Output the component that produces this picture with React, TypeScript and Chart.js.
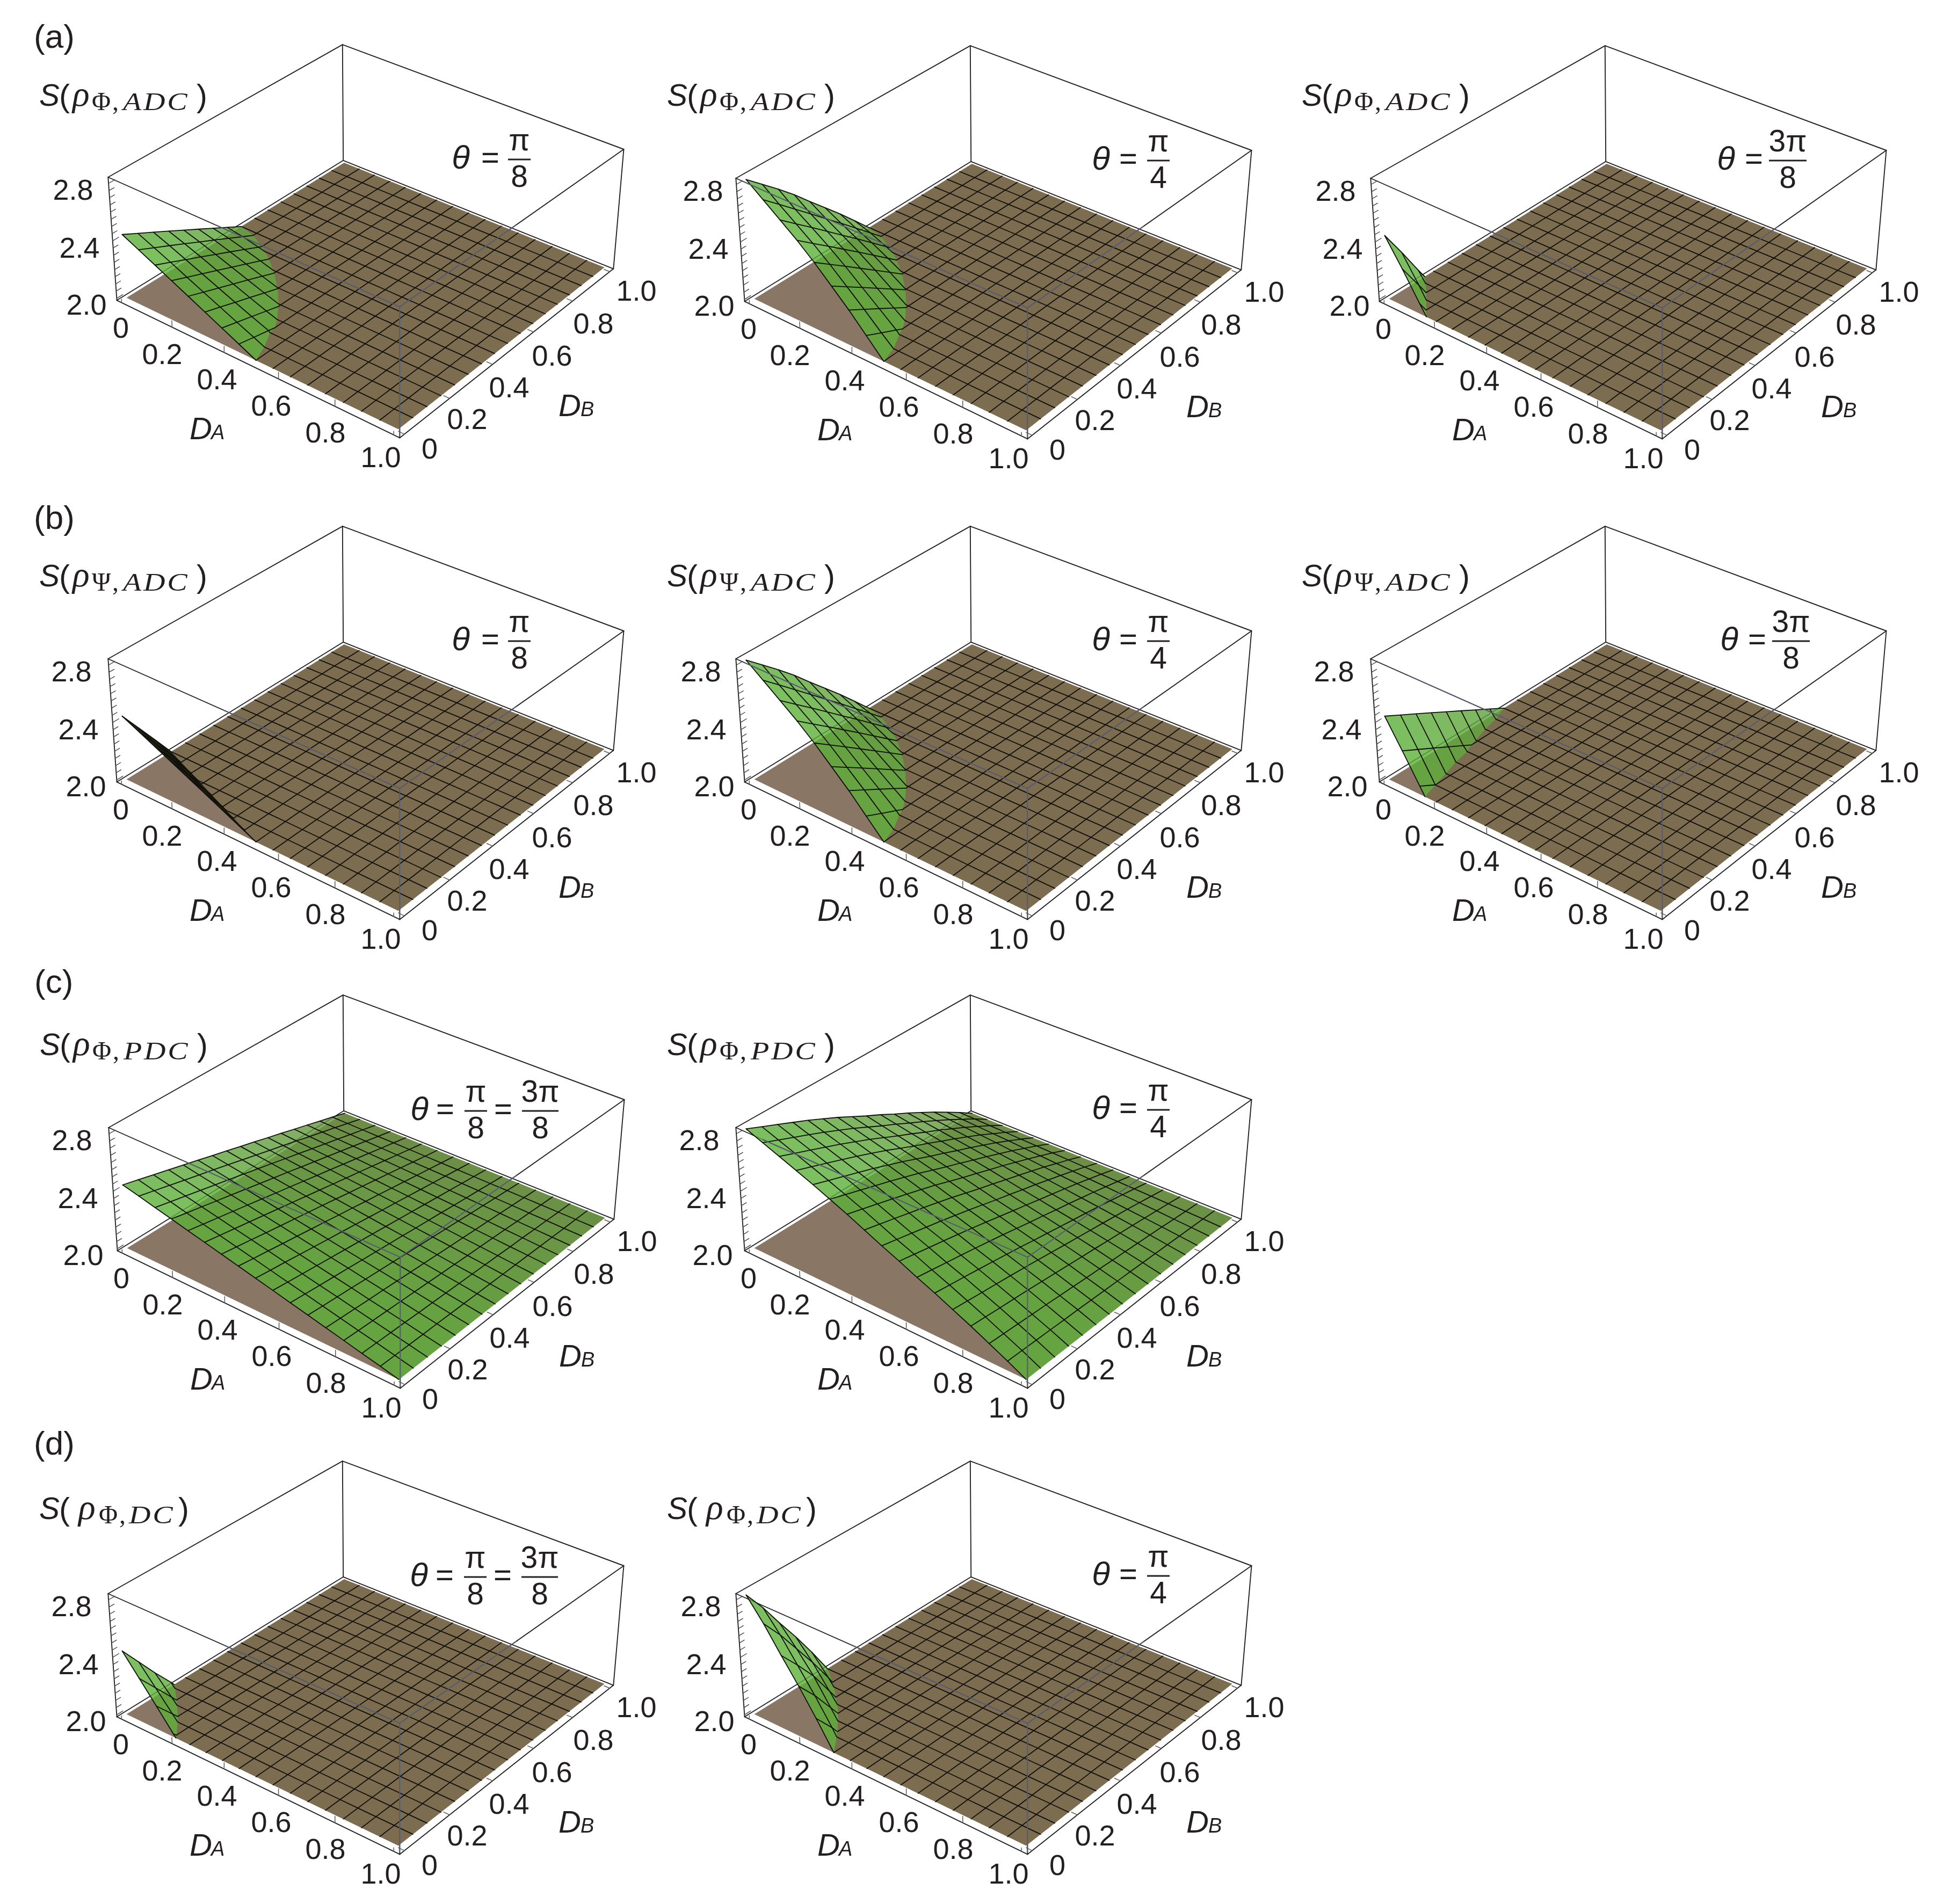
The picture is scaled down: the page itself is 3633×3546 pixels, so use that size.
import React, { useEffect, useRef } from "react";
import { Chart, registerables } from "chart.js";

Chart.register(...registerables);

// ---------- axis data ----------
const daTicks = [0, 0.2, 0.4, 0.6, 0.8, 1];
const daTickLabels = ["0", "0.2", "0.4", "0.6", "0.8", "1.0"];
const dbTicks = [0, 0.2, 0.4, 0.6, 0.8, 1];
const dbTickLabels = ["0", "0.2", "0.4", "0.6", "0.8", "1.0"];
const sTickLabels = ["2.8", "2.4", "2.0"];
const sMinorTicks = [2, 2.05, 2.1, 2.15, 2.2, 2.25, 2.3, 2.35, 2.4, 2.45, 2.5, 2.55, 2.6, 2.65, 2.7, 2.75, 2.8];

// ---------- surface values S(DA,DB): rows = DA k/16, columns = DB k/16; absent nodes lie under the S=2 plane ----------
const a1Surface = [
  [2.44, 2.385, 2.33, 2.275, 2.22, 2.165, 2.11, 2.055, 2.0, 1.945],
  [2.385, 2.335, 2.286, 2.236, 2.186, 2.137, 2.087, 2.037, 1.988],
  [2.33, 2.285, 2.239, 2.194, 2.148, 2.103, 2.057, 2.011, 1.966],
  [2.275, 2.233, 2.192, 2.15, 2.109, 2.067, 2.026, 1.984],
  [2.22, 2.182, 2.145, 2.107, 2.07, 2.032, 1.994],
  [2.165, 2.132, 2.098, 2.065, 2.031, 1.998],
  [2.11, 2.081, 2.053, 2.024, 1.995],
  [2.055, 2.032, 2.01, 1.987],
  [2.0, 1.98],
];
const a2Surface = [
  [2.83, 2.735, 2.64, 2.54, 2.43, 2.325, 2.22, 2.11, 2.0, 1.89],
  [2.74, 2.645, 2.549, 2.454, 2.358, 2.263, 2.167, 2.072, 1.976],
  [2.65, 2.56, 2.471, 2.381, 2.291, 2.202, 2.112, 2.022, 1.933],
  [2.56, 2.475, 2.391, 2.306, 2.222, 2.137, 2.052, 1.968],
  [2.46, 2.381, 2.303, 2.224, 2.146, 2.067, 1.988],
  [2.35, 2.279, 2.208, 2.137, 2.066, 1.995],
  [2.24, 2.177, 2.115, 2.052, 1.989],
  [2.12, 2.07, 2.021, 1.971],
  [2.0, 1.97],
];
const a3Surface = [
  [2.44, 2.26, 2.07, 1.89],
  [2.26, 2.08, 1.9],
  [2.07, 1.89],
  [1.89],
];
const b1Surface = [
  [2.44, 2.293, 2.147, 2.0, 1.853],
  [2.385, 2.238, 2.092, 1.945],
  [2.33, 2.183, 2.037, 1.89],
  [2.275, 2.128, 1.982],
  [2.22, 2.073, 1.927],
  [2.165, 2.018, 1.872],
  [2.11, 1.963],
  [2.055, 1.908],
  [2.0, 1.853],
  [1.945],
];
const b2Surface = [
  [2.83, 2.735, 2.64, 2.54, 2.43, 2.325, 2.22, 2.11, 2.0, 1.89],
  [2.74, 2.645, 2.549, 2.454, 2.358, 2.263, 2.167, 2.072, 1.976],
  [2.65, 2.56, 2.471, 2.381, 2.291, 2.202, 2.112, 2.022, 1.933],
  [2.56, 2.475, 2.391, 2.306, 2.222, 2.137, 2.052, 1.968],
  [2.46, 2.381, 2.303, 2.224, 2.146, 2.067, 1.988],
  [2.35, 2.279, 2.208, 2.137, 2.066, 1.995],
  [2.24, 2.177, 2.115, 2.052, 1.989],
  [2.12, 2.07, 2.021, 1.971],
  [2.0, 1.97],
];
const b3Surface = [
  [2.44, 2.385, 2.33, 2.275, 2.22, 2.165, 2.11, 2.055, 2.0, 1.945],
  [2.25, 2.195, 2.14, 2.085, 2.03, 1.975, 1.92],
  [2.057, 2.0, 1.947, 1.89],
  [1.866, 1.81],
];
const c1Surface = [
  [2.44, 2.413, 2.385, 2.358, 2.33, 2.303, 2.275, 2.248, 2.22, 2.193, 2.165, 2.138, 2.11, 2.083, 2.055, 2.028, 2],
  [2.413, 2.387, 2.361, 2.335, 2.309, 2.284, 2.258, 2.232, 2.206, 2.18, 2.155, 2.129, 2.103, 2.077, 2.052, 2.026, 2],
  [2.385, 2.361, 2.337, 2.313, 2.289, 2.265, 2.241, 2.217, 2.193, 2.168, 2.144, 2.12, 2.096, 2.072, 2.048, 2.024, 2],
  [2.358, 2.335, 2.313, 2.29, 2.268, 2.246, 2.223, 2.201, 2.179, 2.156, 2.134, 2.112, 2.089, 2.067, 2.045, 2.022, 2],
  [2.33, 2.309, 2.289, 2.268, 2.248, 2.227, 2.206, 2.186, 2.165, 2.144, 2.124, 2.103, 2.083, 2.062, 2.041, 2.021, 2],
  [2.303, 2.284, 2.265, 2.246, 2.227, 2.208, 2.189, 2.17, 2.151, 2.132, 2.113, 2.095, 2.076, 2.057, 2.038, 2.019, 2],
  [2.275, 2.258, 2.241, 2.223, 2.206, 2.189, 2.172, 2.155, 2.138, 2.12, 2.103, 2.086, 2.069, 2.052, 2.034, 2.017, 2],
  [2.248, 2.232, 2.217, 2.201, 2.186, 2.17, 2.155, 2.139, 2.124, 2.108, 2.093, 2.077, 2.062, 2.046, 2.031, 2.015, 2],
  [2.22, 2.206, 2.193, 2.179, 2.165, 2.151, 2.138, 2.124, 2.11, 2.096, 2.083, 2.069, 2.055, 2.041, 2.028, 2.014, 2],
  [2.193, 2.18, 2.168, 2.156, 2.144, 2.132, 2.12, 2.108, 2.096, 2.084, 2.072, 2.06, 2.048, 2.036, 2.024, 2.012, 2],
  [2.165, 2.155, 2.144, 2.134, 2.124, 2.113, 2.103, 2.093, 2.083, 2.072, 2.062, 2.052, 2.041, 2.031, 2.021, 2.01, 2],
  [2.138, 2.129, 2.12, 2.112, 2.103, 2.095, 2.086, 2.077, 2.069, 2.06, 2.052, 2.043, 2.034, 2.026, 2.017, 2.009, 2],
  [2.11, 2.103, 2.096, 2.089, 2.083, 2.076, 2.069, 2.062, 2.055, 2.048, 2.041, 2.034, 2.028, 2.021, 2.014, 2.007, 2],
  [2.083, 2.077, 2.072, 2.067, 2.062, 2.057, 2.052, 2.046, 2.041, 2.036, 2.031, 2.026, 2.021, 2.015, 2.01, 2.005, 2],
  [2.055, 2.052, 2.048, 2.045, 2.041, 2.038, 2.034, 2.031, 2.028, 2.024, 2.021, 2.017, 2.014, 2.01, 2.007, 2.003, 2],
  [2.028, 2.026, 2.024, 2.022, 2.021, 2.019, 2.017, 2.015, 2.014, 2.012, 2.01, 2.009, 2.007, 2.005, 2.003, 2.002, 2],
  [2, 2, 2, 2, 2, 2, 2, 2, 2, 2, 2, 2, 2, 2, 2, 2, 2],
];
const c2Surface = [
  [2.83, 2.784, 2.739, 2.693, 2.647, 2.598, 2.548, 2.494, 2.44, 2.39, 2.336, 2.286, 2.232, 2.178, 2.12, 2.062, 2],
  [2.784, 2.741, 2.698, 2.655, 2.611, 2.565, 2.518, 2.467, 2.416, 2.369, 2.318, 2.27, 2.219, 2.168, 2.113, 2.059, 2],
  [2.739, 2.698, 2.658, 2.617, 2.576, 2.532, 2.488, 2.44, 2.392, 2.347, 2.299, 2.255, 2.206, 2.158, 2.107, 2.055, 2],
  [2.693, 2.655, 2.617, 2.579, 2.54, 2.499, 2.458, 2.412, 2.367, 2.326, 2.281, 2.239, 2.194, 2.149, 2.1, 2.052, 2],
  [2.647, 2.611, 2.576, 2.54, 2.505, 2.466, 2.427, 2.385, 2.343, 2.304, 2.262, 2.223, 2.181, 2.139, 2.094, 2.048, 2],
  [2.598, 2.565, 2.532, 2.499, 2.466, 2.431, 2.395, 2.356, 2.317, 2.281, 2.242, 2.206, 2.167, 2.128, 2.086, 2.045, 2],
  [2.548, 2.518, 2.488, 2.458, 2.427, 2.395, 2.362, 2.326, 2.29, 2.257, 2.222, 2.189, 2.153, 2.117, 2.079, 2.041, 2],
  [2.494, 2.467, 2.44, 2.412, 2.385, 2.356, 2.326, 2.294, 2.262, 2.232, 2.2, 2.17, 2.138, 2.106, 2.071, 2.037, 2],
  [2.44, 2.416, 2.392, 2.367, 2.343, 2.317, 2.29, 2.262, 2.233, 2.207, 2.178, 2.152, 2.123, 2.094, 2.064, 2.033, 2],
  [2.39, 2.369, 2.347, 2.326, 2.304, 2.281, 2.257, 2.232, 2.207, 2.183, 2.158, 2.134, 2.109, 2.084, 2.056, 2.029, 2],
  [2.336, 2.318, 2.299, 2.281, 2.262, 2.242, 2.222, 2.2, 2.178, 2.158, 2.136, 2.116, 2.094, 2.072, 2.049, 2.025, 2],
  [2.286, 2.27, 2.255, 2.239, 2.223, 2.206, 2.189, 2.17, 2.152, 2.134, 2.116, 2.099, 2.08, 2.061, 2.041, 2.021, 2],
  [2.232, 2.219, 2.206, 2.194, 2.181, 2.167, 2.153, 2.138, 2.123, 2.109, 2.094, 2.08, 2.065, 2.05, 2.034, 2.017, 2],
  [2.178, 2.168, 2.158, 2.149, 2.139, 2.128, 2.117, 2.106, 2.094, 2.084, 2.072, 2.061, 2.05, 2.038, 2.026, 2.013, 2],
  [2.12, 2.113, 2.107, 2.1, 2.094, 2.086, 2.079, 2.071, 2.064, 2.056, 2.049, 2.041, 2.034, 2.026, 2.017, 2.009, 2],
  [2.062, 2.059, 2.055, 2.052, 2.048, 2.045, 2.041, 2.037, 2.033, 2.029, 2.025, 2.021, 2.017, 2.013, 2.009, 2.005, 2],
  [2, 2, 2, 2, 2, 2, 2, 2, 2, 2, 2, 2, 2, 2, 2, 2, 2],
];
const d1Surface = [
  [2.44, 2.3, 2.16, 2.03, 1.89],
  [2.3, 2.17, 2.04, 1.91],
  [2.16, 2.04, 1.92],
  [2.02, 1.91],
  [1.88],
];
const d2Surface = [
  [2.83, 2.68, 2.51, 2.35, 2.18, 2.0, 1.82],
  [2.68, 2.54, 2.38, 2.22, 2.05, 1.86],
  [2.51, 2.38, 2.24, 2.07, 1.9],
  [2.35, 2.22, 2.07, 1.92],
  [2.18, 2.05, 1.9],
  [2.0, 1.86],
  [1.82],
];

// ---------- panels ----------
const panels = [
  { surface: a1Surface, dx: 0, dy: 0, letter: "(a)", letterY: 72, sym: "Φ", sub: "ADC", theta: "pi8", thetaDx: 0, zX: [136, 148, 161], labelY: 184, sliver: false, frontStart: 0.39 },
  { surface: a2Surface, dx: 1169, dy: 2, letter: "", letterY: 0, sym: "Φ", sub: "ADC", theta: "pi4", thetaDx: 0, zX: [140, 150, 161], labelY: 182, sliver: false, frontStart: 0.03 },
  { surface: a3Surface, dx: 2351, dy: 2, letter: "", letterY: 0, sym: "Φ", sub: "ADC", theta: "3pi8", thetaDx: 0, zX: [136, 149, 162], labelY: 182, sliver: false, frontStart: 0.42 },
  { surface: b1Surface, dx: 0, dy: 897, letter: "(b)", letterY: 71, sym: "Ψ", sub: "ADC", theta: "pi8", thetaDx: 0, zX: [133, 146, 160], labelY: 182, sliver: true, frontStart: 0.42 },
  { surface: b2Surface, dx: 1169, dy: 897, letter: "", letterY: 0, sym: "Ψ", sub: "ADC", theta: "pi4", thetaDx: 0, zX: [136, 146, 161], labelY: 182, sliver: false, frontStart: 0.03 },
  { surface: b3Surface, dx: 2351, dy: 897, letter: "", letterY: 0, sym: "Ψ", sub: "ADC", theta: "3pi8", thetaDx: 6, zX: [133, 147, 158], labelY: 182, sliver: false, frontStart: 0.14 },
  { surface: c1Surface, dx: 1, dy: 1770, letter: "(c)", letterY: 62, sym: "Φ", sub: "PDC", theta: "both", thetaDx: 0, zX: [133, 144, 154], labelY: 182, sliver: false, frontStart: 0.27 },
  { surface: c2Surface, dx: 1169, dy: 1770, letter: "", letterY: 0, sym: "Φ", sub: "PDC", theta: "pi4", thetaDx: 0, zX: [133, 146, 158], labelY: 182, sliver: false, frontStart: 0.1 },
  { surface: d1Surface, dx: 0, dy: 2638, letter: "(d)", letterY: 54, sym: "Φ", sub: "DC", theta: "both", thetaDx: 0, zX: [133, 146, 160], labelY: 178, sliver: false, frontStart: 0.42 },
  { surface: d2Surface, dx: 1169, dy: 2638, letter: "", letterY: 0, sym: "Φ", sub: "DC", theta: "pi4", thetaDx: 0, zX: [136, 146, 161], labelY: 178, sliver: false, frontStart: 0.42 },
];

// ---------- layout ----------
const W = 1240;
const H = 900;
const CELLS = 16;
const S_MIN = 1.986;
const S_MAX = 2.843;
const LO = -0.02;
const HI = 1.02;
const bottomQuad = [[217.6, 559.3], [744.3, 815.4], [1142.3, 500.6], [639.2, 298.8]];
const topQuad = [[201.3, 330], [744.3, 571.4], [1161.5, 278], [637.8, 83.2]];
const daLabelPos = [[225, 614], [302, 663], [404, 710], [505, 759], [606, 809], [709, 855]];
const dbLabelPos = [[800, 839], [870, 784], [948, 725], [1028, 666], [1105, 606], [1185, 545]];
const zLabelY = [357, 465, 571];
const RIGHT_FRONT_END = 0.49;

const BROWN = "#8a7665";
const OLIVE = "#7d6d50";
const MESH = "#100e08";
const EDGE = "#222222";
const FRONT_EDGE = "#545a72";

function homography(q: number[][]) {
  const [[x0, y0], [x1, y1], [x2, y2], [x3, y3]] = q;
  const sx = x0 - x1 + x2 - x3, sy = y0 - y1 + y2 - y3;
  const dx1 = x1 - x2, dx2 = x3 - x2, dy1 = y1 - y2, dy2 = y3 - y2;
  const den = dx1 * dy2 - dx2 * dy1;
  const g = (sx * dy2 - dx2 * sy) / den, h = (dx1 * sy - sx * dy1) / den;
  const a = x1 - x0 + g * x1, b = x3 - x0 + h * x3, d = y1 - y0 + g * y1, e = y3 - y0 + h * y3;
  return (u: number, v: number) => {
    const w = g * u + h * v + 1;
    return [(a * u + b * v + x0) / w, (d * u + e * v + y0) / w];
  };
}
const bottomH = homography(bottomQuad);
const topH = homography(topQuad);

function project(da: number, db: number, s: number) {
  const u = (da - LO) / (HI - LO), v = (db - LO) / (HI - LO);
  const [bx, by] = bottomH(u, v);
  const [tx, ty] = topH(u, v);
  const t = (s - S_MIN) / (S_MAX - S_MIN);
  return { x: bx + (tx - bx) * t, y: by + (ty - by) * t };
}

type Node3 = { a: number; b: number; s: number };

function clipPoly(poly: Node3[], above: boolean): Node3[] {
  const out: Node3[] = [];
  const inside = (n: Node3) => (above ? n.s >= 2 : n.s <= 2);
  for (let k = 0; k < poly.length; k++) {
    const p = poly[k], q = poly[(k + 1) % poly.length];
    if (inside(p)) out.push(p);
    if (inside(p) !== inside(q)) {
      const t = (2 - p.s) / (q.s - p.s);
      out.push({ a: p.a + (q.a - p.a) * t, b: p.b + (q.b - p.b) * t, s: 2 });
    }
  }
  return out;
}

function buildDatasets(surface: number[][], sliver: boolean, frontStart: number) {
  const sets: any[] = [];
  const S = (i: number, j: number) => {
    const r = surface[i];
    const v = r ? r[j] : undefined;
    return v === undefined ? 1.9 : v;
  };
  const line = (pts: { x: number; y: number }[], color: string, width: number) =>
    sets.push({ data: pts, showLine: true, borderColor: color, borderWidth: width, pointRadius: 0, fill: false, tension: 0, borderCapStyle: "round", borderJoinStyle: "round" });
  const face = (pts: { x: number; y: number }[], color: string) =>
    sets.push({ data: [...pts, pts[0]], showLine: true, borderWidth: 0, borderColor: "rgba(0,0,0,0)", backgroundColor: color, pointRadius: 0, fill: "shape", tension: 0 });
  const seg = (p: number[], q: number[], color = EDGE, w = 1.9) =>
    line([project(p[0], p[1], p[2]), project(q[0], q[1], q[2])], color, w);

  // box edges
  const c = {
    L: [LO, LO, S_MIN], F: [HI, LO, S_MIN], R: [HI, HI, S_MIN], B: [LO, HI, S_MIN],
    LT: [LO, LO, S_MAX], FT: [HI, LO, S_MAX], RT: [HI, HI, S_MAX], BT: [LO, HI, S_MAX],
  };
  seg(c.L, c.F); seg(c.F, c.R); seg(c.R, c.B); seg(c.B, c.L);
  seg(c.LT, c.FT); seg(c.FT, c.RT); seg(c.RT, c.BT); seg(c.BT, c.LT);
  seg(c.L, c.LT); seg(c.F, c.FT); seg(c.R, c.RT); seg(c.B, c.BT);

  // axis ticks
  daTicks.forEach((t, k) => {
    const top = k === 0 || k === daTicks.length - 1 ? 2.01 : 2.03;
    seg([t, LO, S_MIN], [t, LO, top], "#5a5a5a", 1.5);
  });
  dbTicks.forEach((t) => seg([HI, t, S_MIN], [1.0, t, S_MIN], "#5a5a5a", 1.5));
  sMinorTicks.forEach((s) => seg([LO, LO, s], [LO, s === 2 || s === 2.4 || s === 2.8 ? 0.005 : 0.0, s], "#444444", 1.4));

  // floor plane
  face([project(0, 0, 2), project(1, 0, 2), project(1, 1, 2), project(0, 1, 2)], BROWN);

  const nodes = (i: number, j: number): Node3[] => [
    { a: i / CELLS, b: j / CELLS, s: S(i, j) },
    { a: (i + 1) / CELLS, b: j / CELLS, s: S(i + 1, j) },
    { a: (i + 1) / CELLS, b: (j + 1) / CELLS, s: S(i + 1, j + 1) },
    { a: i / CELLS, b: (j + 1) / CELLS, s: S(i, j + 1) },
  ];

  // level part of the surface (S = 2), merged along each row
  for (let i = 0; i < CELLS; i++) {
    let run = -1;
    for (let j = 0; j <= CELLS; j++) {
      const full = j < CELLS && nodes(i, j).every((n) => n.s <= 2);
      if (full && run < 0) run = j;
      if (!full && run >= 0) {
        face([project(i / CELLS, run / CELLS, 2), project((i + 1) / CELLS, run / CELLS, 2), project((i + 1) / CELLS, j / CELLS, 2), project(i / CELLS, j / CELLS, 2)], OLIVE);
        run = -1;
      }
      if (j < CELLS && !full) {
        const part = clipPoly(nodes(i, j), false);
        if (part.length >= 3) face(part.map((n) => project(n.a, n.b, 2)), OLIVE);
      }
    }
  }

  // mesh lines split into level and raised parts
  const level: { x: number; y: number }[][] = [];
  const raised: { x: number; y: number }[][] = [];
  const trace = (at: (k: number) => Node3, border: boolean) => {
    let cur: Node3[] = [];
    let kind = "";
    const flush = () => {
      if (cur.length > 1) {
        if (kind === "up") raised.push(cur.map((n) => project(n.a, n.b, n.s)));
        else if (!border) level.push(cur.map((n) => project(n.a, n.b, 2)));
      }
      cur = [];
    };
    for (let k = 0; k < CELLS; k++) {
      const p = at(k), q = at(k + 1);
      const add = (m: Node3, n: Node3, kd: string) => {
        if (kd !== kind) { flush(); kind = kd; cur = [m, n]; } else cur.push(n);
      };
      const kp = p.s > 2 ? 1 : p.s < 2 ? -1 : 0, kq = q.s > 2 ? 1 : q.s < 2 ? -1 : 0;
      if (kp >= 0 && kq >= 0 && kp + kq > 0) add(p, q, "up");
      else if (kp <= 0 && kq <= 0) add(p, q, "flat");
      else {
        const t = (2 - p.s) / (q.s - p.s);
        const m = { a: p.a + (q.a - p.a) * t, b: p.b + (q.b - p.b) * t, s: 2 };
        if (kp > 0) { add(p, m, "up"); add(m, q, "flat"); } else { add(p, m, "flat"); add(m, q, "up"); }
      }
    }
    flush();
  };
  for (let k = 0; k <= CELLS; k++) {
    const border = k === 0 || k === CELLS;
    trace((n) => ({ a: k / CELLS, b: n / CELLS, s: S(k, n) }), border);
    trace((n) => ({ a: n / CELLS, b: k / CELLS, s: S(n, k) }), border);
  }
  level.forEach((p) => line(p, MESH, 1.8));

  // raised part of the surface, back to front
  for (let i = 0; i < CELLS; i++) {
    for (let j = CELLS - 1; j >= 0; j--) {
      const q = nodes(i, j);
      if (!q.some((n) => n.s > 2)) continue;
      const part = clipPoly(q, true);
      if (part.length < 3) continue;
      const bm = (j + 0.5) / CELLS;
      const am = (i + 0.5) / CELLS;
      const back = Math.max(0, bm * 1.1 - am * 0.25);
      const col = sliver
        ? "rgba(20,26,12,0.95)"
        : `rgba(${Math.round(91 + 10 * back)},${Math.round(176 - 28 * back)},${Math.round(56 + 8 * back)},0.8)`;
      face(part.map((n) => project(n.a, n.b, n.s)), col);
    }
  }
  raised.forEach((p) => line(p, MESH, 1.8));

  // the parts of the box edges that pass in front of the surface
  seg([LO + (HI - LO) * frontStart, LO, S_MAX], c.FT, FRONT_EDGE, 2);
  seg(c.FT, [HI, LO + (HI - LO) * RIGHT_FRONT_END, S_MAX], FRONT_EDGE, 2);
  seg([HI, LO, 2], c.FT, FRONT_EDGE, 2);

  // Chart.js paints the highest order first
  sets.forEach((d, k) => { d.order = sets.length - k; });
  return sets;
}

const SANS = '"Liberation Sans"';
const SERIF = '"Liberation Serif"';

function panelPlugin(p: (typeof panels)[number]) {
  return {
    id: "panelText",
    afterDraw(chart: any) {
      const ctx = chart.ctx as CanvasRenderingContext2D;
      const X = (v: number) => chart.scales.x.getPixelForValue(v);
      const Y = (v: number) => chart.scales.y.getPixelForValue(v);
      const text = (s: string, x: number, y: number, font: string, align: CanvasTextAlign = "center", base: CanvasTextBaseline = "middle") => {
        ctx.font = font;
        ctx.textAlign = align;
        ctx.textBaseline = base;
        ctx.fillText(s, X(x), Y(y));
      };
      ctx.save();
      ctx.fillStyle = "#231f20";
      const tickFont = `54px ${SANS}`;
      daTickLabels.forEach((t, k) => text(t, daLabelPos[k][0], daLabelPos[k][1], tickFont));
      dbTickLabels.forEach((t, k) => text(t, dbLabelPos[k][0], dbLabelPos[k][1], tickFont));
      sTickLabels.forEach((t, k) => text(t, p.zX[k], zLabelY[k], tickFont));

      // axis titles
      text("D", 353, 818, `italic 58px ${SANS}`, "left", "alphabetic");
      text("A", 393, 818, `italic 38px ${SANS}`, "left", "alphabetic");
      text("D", 1040, 775, `italic 58px ${SANS}`, "left", "alphabetic");
      text("B", 1081, 775, `italic 38px ${SANS}`, "left", "alphabetic");

      if (p.letter) text(p.letter, 63, p.letterY, `62px ${SANS}`, "left");

      // S(rho_sym,sub)
      const by = p.labelY + 13;
      const dc = p.sub === "DC";
      text("S", 73, by, `italic 57px ${SANS}`, "left", "alphabetic");
      text("(", 110, by + 2, `60px ${SANS}`, "left", "alphabetic");
      text("ρ", dc ? 146 : 135, by, `italic 66px ${SERIF}`, "left", "alphabetic");
      text(p.sym, dc ? 184 : 171, by + 8, `48px ${SERIF}`, "left", "alphabetic");
      text(",", dc ? 222 : 209, by + 8, `48px ${SERIF}`, "left", "alphabetic");
      ctx.save();
      ctx.font = `italic 46px ${SERIF}`;
      ctx.textAlign = "left";
      ctx.textBaseline = "alphabetic";
      (ctx as any).letterSpacing = "3px";
      ctx.translate(X(dc ? 240 : 229), Y(by + 8));
      ctx.scale(1.22, 1);
      ctx.fillText(p.sub, 0, 0);
      ctx.restore();
      text(")", dc ? 332 : 366, by + 2, `60px ${SANS}`, "left", "alphabetic");

      // theta = fraction
      const frac = (num: string, den: string, cx: number, half: number, y: number) => {
        text(num, cx, y - 33, `57px ${SANS}`);
        text(den, cx, y + 35, `57px ${SANS}`);
        ctx.fillRect(X(cx - half), Y(y - 1.5), half * 2, 3);
      };
      const d = p.thetaDx;
      const th = `italic 62px ${SANS}`;
      const eq = `58px ${SANS}`;
      if (p.theta === "pi8") {
        text("θ", 858, 297, th); text("=", 913, 297, eq); frac("π", "8", 967, 21, 297);
      } else if (p.theta === "pi4") {
        text("θ", 881, 297, th); text("=", 932, 297, eq); frac("π", "4", 988, 21, 297);
      } else if (p.theta === "3pi8") {
        text("θ", 863 + d, 297, th); text("=", 915 + d, 297, eq); frac("3π", "8", 978 + d, 35, 297);
      } else {
        text("θ", 780, 299, th); text("=", 828, 299, eq); frac("π", "8", 885, 21, 299);
        text("=", 936, 299, eq); frac("3π", "8", 1005, 34, 299);
      }
      ctx.restore();
    },
  };
}

function Panel({ panel }: { panel: (typeof panels)[number] }) {
  const ref = useRef<HTMLCanvasElement | null>(null);
  useEffect(() => {
    if (!ref.current) return;
    const chart = new Chart(ref.current, {
      type: "scatter",
      data: { datasets: buildDatasets(panel.surface, panel.sliver, panel.frontStart) },
      options: {
        animation: false,
        responsive: false,
        maintainAspectRatio: false,
        devicePixelRatio: 1,
        events: [],
        layout: { padding: 0 },
        plugins: { legend: { display: false }, tooltip: { enabled: false }, title: { display: false } },
        scales: {
          x: { type: "linear", min: 0, max: W, display: false },
          y: { type: "linear", min: 0, max: H, reverse: true, display: false },
        },
      },
      plugins: [panelPlugin(panel)],
    } as any);
    return () => chart.destroy();
  }, [panel]);
  return (
    <canvas
      ref={ref}
      width={W}
      height={H}
      style={{ position: "absolute", left: panel.dx, top: panel.dy, width: W, height: H }}
    />
  );
}

export default function App() {
  return (
    <div style={{ position: "absolute", left: 0, top: 0, width: 3633, height: 3546, background: "#fff", overflow: "hidden" }}>
      {panels.map((p, k) => (
        <Panel key={k} panel={p} />
      ))}
    </div>
  );
}
